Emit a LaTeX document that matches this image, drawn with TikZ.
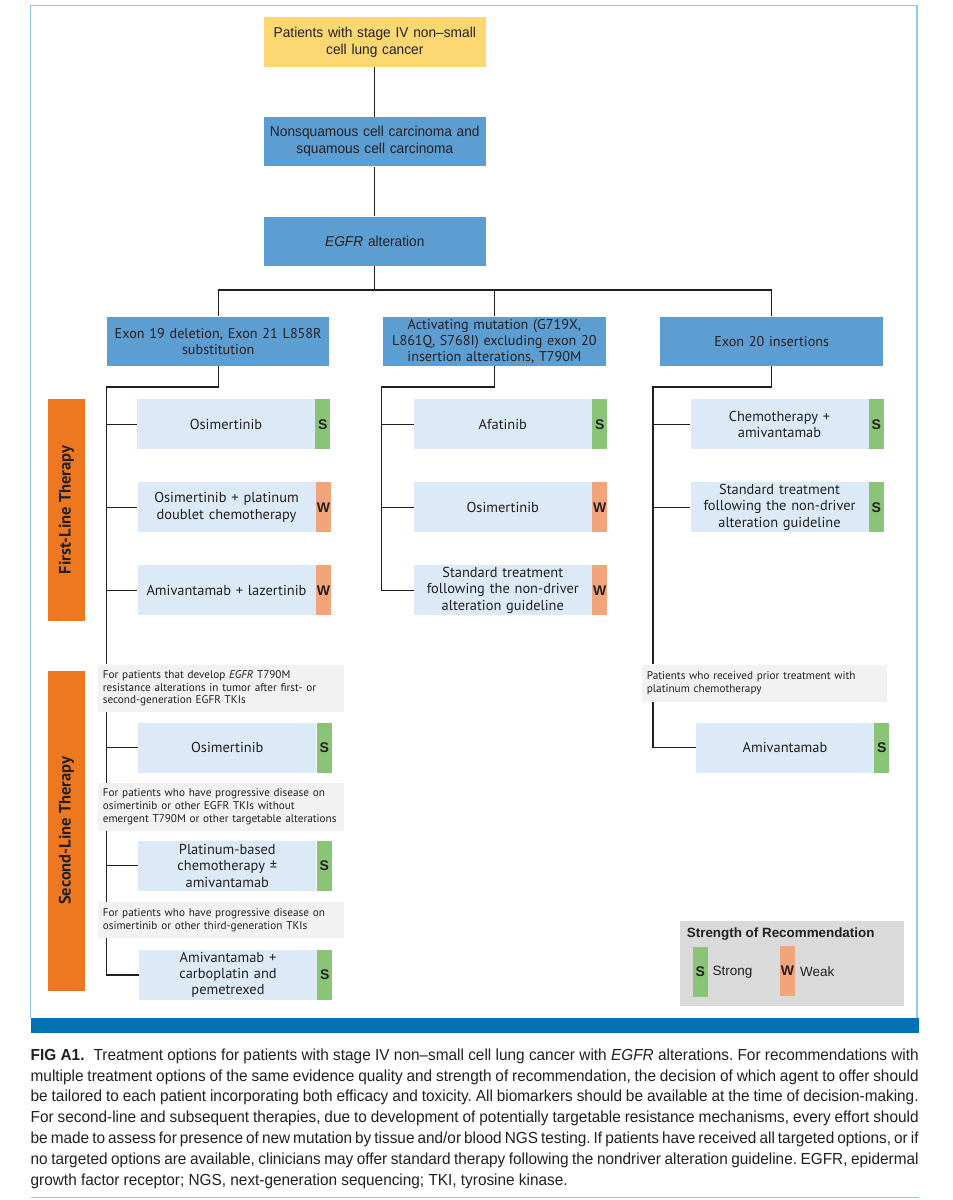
\documentclass[tikz,border=0pt]{standalone}
\usepackage{fontspec}
\setmainfont{PT Sans}
\newfontfamily\condfont[FakeStretch=0.96]{Liberation Sans}
\newfontfamily\tabfont{Liberation Sans}
\usetikzlibrary{positioning}
\frenchspacing

\definecolor{inkcol}{RGB}{35,31,32}
\definecolor{framecol}{RGB}{150,200,234}
\definecolor{bandcol}{RGB}{0,114,178}
\definecolor{yellowbox}{RGB}{253,216,114}
\definecolor{headblue}{RGB}{93,158,210}
\definecolor{optblue}{RGB}{219,234,246}
\definecolor{strongcol}{RGB}{138,196,118}
\definecolor{weakcol}{RGB}{244,164,122}
\definecolor{barorange}{RGB}{238,120,32}
\definecolor{notegray}{RGB}{242,242,242}
\definecolor{legendgray}{RGB}{218,218,218}

\begin{document}
\begin{tikzpicture}[
        x=1pt, y=-1pt,
        every node/.style={text=inkcol},
        topbox/.style={fill=headblue, minimum width=221.6pt, minimum height=49.4pt, inner sep=0pt, text width=216pt, align=center, font=\condfont\fontsize{14.3}{17}\selectfont},
        headbox/.style={fill=headblue, minimum width=222.5pt, minimum height=49.4pt, inner sep=0pt, text width=218pt, align=center, font=\fontsize{14.2}{15.7}\selectfont},
        optbox/.style={fill=optblue, minimum width=178pt, minimum height=50pt, inner sep=0pt, text width=174pt, align=center, font=\fontsize{14.4}{16.3}\selectfont},
        tabS/.style={fill=strongcol, anchor=west, minimum width=15pt, minimum height=50pt, inner sep=0pt, font=\tabfont\bfseries\fontsize{14}{16}\selectfont},
        tabW/.style={tabS, fill=weakcol},
        notebox/.style={fill=notegray, anchor=north west, minimum width=245.6pt, inner xsep=5pt, inner ysep=0pt, text width=235.6pt, align=left, font=\fontsize{11.2}{12.7}\selectfont},
        phase/.style={fill=barorange, rotate=90, minimum height=37.3pt, inner sep=0pt, font=\bfseries\fontsize{16.5}{18}\selectfont},
        link/.style={draw=inkcol, line width=1.2pt}
      ]
      \useasboundingbox (0,0) rectangle (953,1200);

      % Frame and band
      \draw[framecol, line width=1.4pt] (30.5,1018) -- (30.5,5.7) -- (917,5.7) -- (917,1018);
      \fill[bandcol] (30.5,1018.3) rectangle (918.5,1032.7);
      \draw[framecol, line width=1.4pt] (30.5,1197.7) -- (918.5,1197.7);

      % Top of the tree
      \node [topbox, fill=yellowbox] (nsclc) at (374.8,42) {Patients with stage IV non–small\\cell lung cancer};
      \node [topbox] (histo) at (374.8,141.6) {Nonsquamous cell carcinoma and\\squamous cell carcinoma};
      \node [topbox] (egfr) at (374.8,241.3) {\textit{EGFR} alteration};

      \node [headbox] (exon19) at (218.2,341.3) {Exon 19 deletion, Exon 21 L858R\\substitution};
      \node [headbox] (activ) at (494.4,341.3) {Activating mutation (G719X,\\L861Q, S768I) excluding exon 20\\insertion alterations, T790M};
      \node [headbox] (exon20) at (771.7,341.3) {Exon 20 insertions};

      \coordinate (split) at (374.8,290);
      \draw[link] (nsclc) -- (histo);
      \draw[link] (histo) -- (egfr);
      \draw[link] (egfr) -- (split);
      \draw[link] (exon19.north) |- (split) -| (exon20.north);
      \draw[link] (activ.north) -- (activ.north |- split);

      % Therapy lines
      \node [phase, minimum width=221.7pt] (firstline) at (66.4,509.9) {First-Line Therapy};
      \node [phase, minimum width=320pt] (secondline) at (66.4,830.7) {Second-Line Therapy};

      % First column
      \node [optbox] (osiA) at (226,424.2) {Osimertinib};
      \node [tabS] at (osiA.east) {S};
      \node [optbox] (platA) at (226.5,507.2) {Osimertinib + platinum\\doublet chemotherapy};
      \node [tabW] at (platA.east) {W};
      \node [optbox] (lazA) at (226.5,590.3) {Amivantamab + lazertinib};
      \node [tabW] at (lazA.east) {W};

      \node [notebox, minimum height=47.4pt] (note1) at (97.7,664.3) {For patients that develop \textit{EGFR} T790M\\resistance alterations in tumor after first- or\\second-generation EGFR TKIs};
      \node [optbox] (osiB) at (227.3,747.5) {Osimertinib};
      \node [tabS] at (osiB.east) {S};
      \node [notebox, minimum height=47.6pt] (note2) at (97.7,782.7) {For patients who have progressive disease on\\osimertinib or other EGFR TKIs without\\emergent T790M or other targetable alterations};
      \node [optbox] (platB) at (227.3,865.8) {Platinum-based\\chemotherapy ±\\amivantamab};
      \node [tabS] at (platB.east) {S};
      \node [notebox, minimum height=36.3pt] (note3) at (97.7,901.7) {For patients who have progressive disease on\\osimertinib or other third-generation TKIs};
      \node [optbox] (amivB) at (228,975) {Amivantamab +\\carboplatin and\\pemetrexed};
      \node [tabS] at (amivB.east) {S};

      \coordinate (spineA) at (106.7,387);
      \draw[link] (exon19.south) |- (spineA) -- (spineA |- note1.north);
      \draw[link] (spineA |- osiA.west) -- (osiA.west);
      \draw[link] (spineA |- platA.west) -- (platA.west);
      \draw[link] (spineA |- lazA.west) -- (lazA.west);
      \draw[link] (note1.south -| spineA) -- (note2.north -| spineA);
      \draw[link] (spineA |- osiB.west) -- (osiB.west);
      \draw[link] (note2.south -| spineA) -- (note3.north -| spineA);
      \draw[link] (spineA |- platB.west) -- (platB.west);
      \draw[link] (note3.south -| spineA) |- (amivB.west);

      % Second column
      \node [optbox] (afat) at (502.8,424.2) {Afatinib};
      \node [tabS] at (afat.east) {S};
      \node [optbox] (osiM) at (502.8,507.2) {Osimertinib};
      \node [tabW] at (osiM.east) {W};
      \node [optbox] (stdM) at (502.8,590.3) {Standard treatment\\following the non-driver\\alteration guideline};
      \node [tabW] at (stdM.east) {W};

      \coordinate (spineB) at (381.6,387);
      \draw[link] (activ.south) |- (spineB) |- (stdM.west);
      \draw[link] (spineB |- afat.west) -- (afat.west);
      \draw[link] (spineB |- osiM.west) -- (osiM.west);

      % Third column
      \node [optbox] (chemo) at (779.5,424.2) {Chemotherapy +\\amivantamab};
      \node [tabS] at (chemo.east) {S};
      \node [optbox] (stdC) at (779.5,507.2) {Standard treatment\\following the non-driver\\alteration guideline};
      \node [tabS] at (stdC.east) {S};
      \node [notebox, minimum width=245pt, text width=235pt, minimum height=37.4pt] (noteC) at (641.7,664.3) {Patients who received prior treatment with\\platinum chemotherapy};
      \node [optbox] (amivC) at (785,747.5) {Amivantamab};
      \node [tabS] at (amivC.east) {S};

      \coordinate (spineC) at (653,387);
      \draw[link] (exon20.south) |- (spineC) -- (spineC |- noteC.north);
      \draw[link] (spineC |- chemo.west) -- (chemo.west);
      \draw[link] (spineC |- stdC.west) -- (stdC.west);
      \draw[link] (noteC.south -| spineC) |- (amivC.west);

      % Legend
      \node [fill=legendgray, minimum width=224pt, minimum height=85.3pt, inner sep=0pt] (legend) at (792,963.4) {};
      \node [anchor=west, inner sep=0pt, font=\tabfont\bfseries\fontsize{13.4}{15}\selectfont] (legtitle) at (686.7,934) {Strength of Recommendation};
      \node [tabS, anchor=center] (legS) at (700.2,971.7) {S};
      \node [anchor=west, inner sep=0pt, font=\tabfont\fontsize{13.5}{16}\selectfont] (legstrong) at (712.5,971.7) {Strong};
      \node [tabW, anchor=center] (legW) at (787.5,970.5) {W};
      \node [anchor=west, inner sep=0pt, font=\tabfont\fontsize{13.5}{16}\selectfont] (legweak) at (800,971.5) {Weak};

      % Caption
      \node [anchor=north west, inner sep=0pt, text width=888pt, align=justify, font=\condfont\fontsize{16}{20.8}\selectfont] (caption) at (30.5,1048.5) {\textbf{FIG A1.}\hspace{0.3em} Treatment options for patients with stage IV non–small cell lung cancer with \textit{EGFR} alterations. For recommendations with\linebreak
      multiple treatment options of the same evidence quality and strength of recommendation, the decision of which agent to offer should\linebreak
      be tailored to each patient incorporating both efficacy and toxicity. All biomarkers should be available at the time of decision-making.\linebreak
      For second-line and subsequent therapies, due to development of potentially targetable resistance mechanisms, every effort should\linebreak
      be made to assess for presence of new mutation by tissue and/or blood NGS testing. If patients have received all targeted options, or if\linebreak
      no targeted options are available, clinicians may offer standard therapy following the nondriver alteration guideline. EGFR, epidermal\linebreak
      growth factor receptor; NGS, next-generation sequencing; TKI, tyrosine kinase.};

    \end{tikzpicture}
\end{document}
